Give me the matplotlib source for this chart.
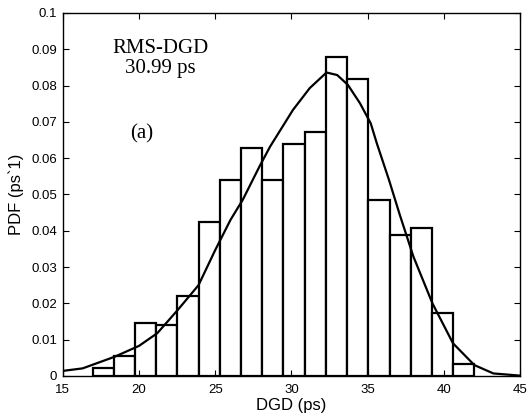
import numpy as np
import matplotlib
matplotlib.use('Agg')
import matplotlib.pyplot as plt

# histogram of DGD samples (bin edges + heights)
bin_left = 16.95
bin_width = 1.392
pdf_hist = [0.0021, 0.0055, 0.0146, 0.0140, 0.0220, 0.0424, 0.0540, 0.0627, 0.0540,
            0.0638, 0.0673, 0.0880, 0.0819, 0.0485, 0.0389, 0.0408, 0.0173, 0.0033]

# fitted Maxwellian-like curve
curve_x = [15, 16.3, 18.4, 20, 21.2, 22.5, 23.9, 25, 26, 26.8, 27.9, 28.6, 30.1, 31.2,
           32.3, 33.0, 33.7, 34.5, 35.2, 35.6, 36.4, 37.1, 38.0, 39.25, 40.6, 42.0, 43.25, 45]
curve_y = [0.0014, 0.0021, 0.0053, 0.0083, 0.0118, 0.0180, 0.0250, 0.0347, 0.0430, 0.0485,
           0.0577, 0.0632, 0.0733, 0.0793, 0.0836, 0.0829, 0.0802, 0.0751, 0.0696, 0.0641,
           0.0540, 0.0445, 0.0329, 0.0200, 0.0090, 0.0030, 0.0007, 0.0001]

xticks = [15, 20, 25, 30, 35, 40, 45]
yticks = [0, 0.01, 0.02, 0.03, 0.04, 0.05, 0.06, 0.07, 0.08, 0.09, 0.1]
yticklabels = ['0', '0.01', '0.02', '0.03', '0.04', '0.05', '0.06', '0.07', '0.08', '0.09', '0.1']

plt.rcParams['font.family'] = ['Liberation Sans', 'DejaVu Sans']

fig = plt.figure(figsize=(5.28, 4.18), dpi=100)
ax = fig.add_axes([0.119, 0.1005, 0.866, 0.8685])

lefts = bin_left + bin_width * np.arange(len(pdf_hist))
ax.bar(lefts, pdf_hist, width=bin_width, align='edge', facecolor='white',
       edgecolor='black', linewidth=1.6)
ax.plot(curve_x, curve_y, color='black', linewidth=1.6)

ax.set_xlim(15, 45)
ax.set_ylim(0, 0.1)
ax.set_xticks(xticks)
ax.set_yticks(yticks)
ax.set_yticklabels(yticklabels)
ax.tick_params(direction='in', top=True, right=True, labelsize=9.5, length=4)
ax.tick_params(axis='x', pad=6)
ax.tick_params(axis='y', pad=4)
for s in ax.spines.values():
    s.set_linewidth(1.0)

ax.set_xlabel('DGD (ps)', fontsize=12, labelpad=1)
ax.set_ylabel('PDF (ps`1)', fontsize=12, labelpad=5)

ax.text(21.4, 0.0874, 'RMS-DGD\n30.99 ps', ha='center', va='center',
        family='Liberation Serif', fontsize=15, linespacing=1.05)
ax.text(20.2, 0.0668, '(a)', ha='center', va='center',
        family='Liberation Serif', fontsize=15)

plt.savefig('out.png', dpi=100)
